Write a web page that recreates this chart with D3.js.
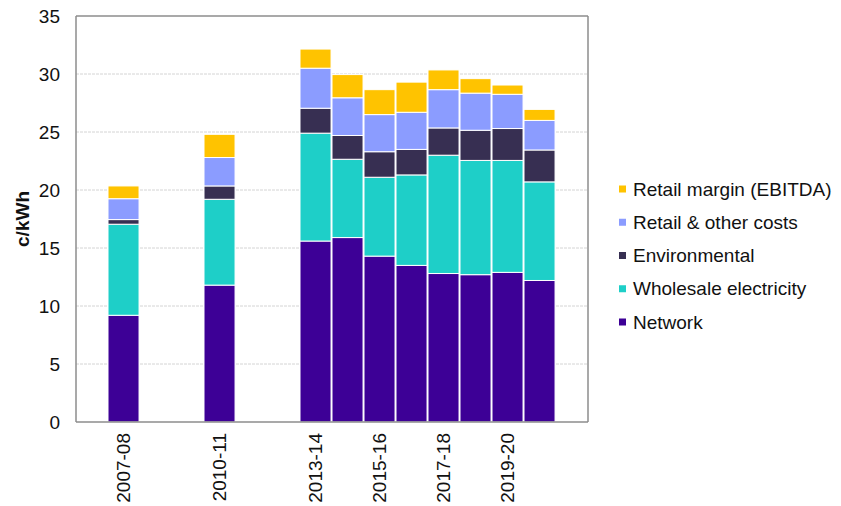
<!DOCTYPE html>
<html>
<head>
<meta charset="utf-8">
<script src="https://cdn.jsdelivr.net/npm/d3@7"></script>
<style>
  body { margin: 0; background: #fff; }
  svg { display: block; font-family: "Liberation Sans", Arial, sans-serif; }
</style>
</head>
<body>
<svg width="841" height="506"></svg>
<script>
// data (c/kWh)
const categories = ['2007-08', '2010-11', '2013-14', '2014-15', '2015-16', '2016-17', '2017-18', '2018-19', '2019-20', '2020-21']
const network = [9.2, 11.8, 15.6, 15.9, 14.3, 13.5, 12.8, 12.7, 12.9, 12.2]
const wholesale = [7.85, 7.4, 9.3, 6.75, 6.8, 7.8, 10.2, 9.85, 9.65, 8.5]
const environmental = [0.4, 1.15, 2.15, 2.05, 2.2, 2.2, 2.35, 2.6, 2.75, 2.75]
const retailCosts = [1.8, 2.45, 3.45, 3.25, 3.2, 3.2, 3.3, 3.2, 2.95, 2.55]
const retailMargin = [1.1, 2.0, 1.65, 2.0, 2.15, 2.6, 1.7, 1.25, 0.8, 0.95]

const seriesNames = ['Network', 'Wholesale electricity', 'Environmental', 'Retail & other costs', 'Retail margin (EBITDA)']
const seriesColors = ['#3d0096', '#1ecfc8', '#372f52', '#8b9cff', '#ffc300']
const tickLabels = ['2007-08', '2010-11', '2013-14', '2015-16', '2017-18', '2019-20']
const yTicks = [0, 5, 10, 15, 20, 25, 30, 35]

// x axis runs over every financial year, gaps included
const years = d3.range(2006, 2022).map(y => `${y}-${String(y + 1).slice(2)}`)

const rows = categories.map((c, i) => ({
  year: c,
  'Network': network[i],
  'Wholesale electricity': wholesale[i],
  'Environmental': environmental[i],
  'Retail & other costs': retailCosts[i],
  'Retail margin (EBITDA)': retailMargin[i]
}))

const plotL = 76, plotR = 588, plotT = 16, plotB = 422
const fs = 19

const x = d3.scaleBand().domain(years).range([plotL, plotR])
  .paddingInner(0.03).paddingOuter(0.015).align(0)
const y = d3.scaleLinear().domain([0, 35]).range([plotB, plotT])
const color = d3.scaleOrdinal().domain(seriesNames).range(seriesColors)

const svg = d3.select("svg")

// gridlines
svg.append("g")
  .selectAll("line")
  .data(yTicks.filter(t => t > 0 && t < 35))
  .join("line")
  .attr("x1", plotL).attr("x2", plotR)
  .attr("y1", d => y(d)).attr("y2", d => y(d))
  .attr("stroke", "#d4d4d4")
  .attr("stroke-dasharray", "3,1")

const stacked = d3.stack().keys(seriesNames)(rows)

svg.append("g")
  .selectAll("g")
  .data(stacked)
  .join("g")
  .attr("fill", d => color(d.key))
  .selectAll("rect")
  .data(d => d)
  .join("rect")
  .attr("x", d => x(d.data.year))
  .attr("width", x.bandwidth())
  .attr("y", d => y(d[1]))
  .attr("height", d => y(d[0]) - y(d[1]))
  .attr("stroke", "#fff")
  .attr("stroke-width", 1)

// frame
const frame = svg.append("g").attr("stroke", "#8c8c8c").attr("stroke-width", 1.5).attr("fill", "none")
frame.append("line").attr("x1", plotL).attr("x2", plotR).attr("y1", y(35)).attr("y2", y(35))
frame.append("line").attr("x1", plotL).attr("x2", plotL).attr("y1", y(35)).attr("y2", y(0))
frame.append("line").attr("x1", plotR).attr("x2", plotR).attr("y1", y(35)).attr("y2", y(0))
frame.append("line").attr("x1", plotL).attr("x2", plotR).attr("y1", y(0)).attr("y2", y(0))

// y axis labels
const yAxis = svg.append("g")
  .attr("transform", `translate(${plotL},0)`)
  .call(d3.axisLeft(y).tickValues(yTicks).tickSize(0).tickPadding(16))
yAxis.select(".domain").remove()
yAxis.selectAll("text").attr("font-size", fs).attr("fill", "#111").attr("font-family", null)

// x axis labels, rotated
const xAxis = svg.append("g")
  .attr("transform", `translate(0,${plotB})`)
  .call(d3.axisBottom(x).tickValues(tickLabels).tickSize(0))
xAxis.select(".domain").remove()
xAxis.selectAll("text")
  .attr("font-size", fs).attr("fill", "#111").attr("font-family", null)
  .attr("transform", "rotate(-90)")
  .attr("text-anchor", "end")
  .attr("x", -11).attr("y", 0).attr("dy", "0.35em")

// y title
svg.append("text")
  .attr("transform", `translate(29,${(plotT + plotB) / 2}) rotate(-90)`)
  .attr("text-anchor", "middle")
  .attr("font-size", fs).attr("font-weight", "bold").attr("fill", "#111")
  .text("c/kWh")

// legend, top entry is the top of the stack
const legend = svg.append("g")
  .selectAll("g")
  .data(seriesNames.slice().reverse())
  .join("g")
  .attr("transform", (d, i) => `translate(619,${189 + i * 33.25})`)
legend.append("rect")
  .attr("x", 0).attr("y", -3.5).attr("width", 7).attr("height", 7)
  .attr("fill", d => color(d))
legend.append("text")
  .attr("x", 14).attr("dy", "0.35em")
  .attr("font-size", fs).attr("fill", "#111")
  .text(d => d)
</script>
</body>
</html>
